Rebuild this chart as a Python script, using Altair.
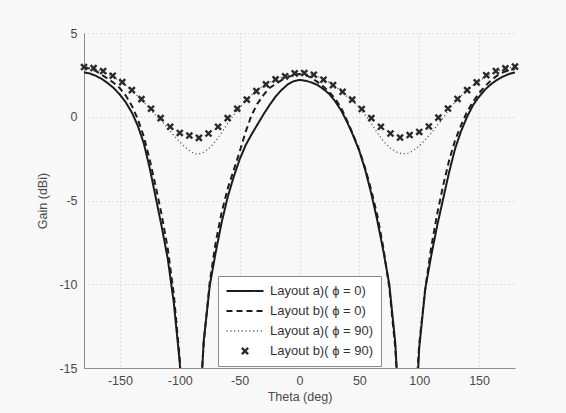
import altair as alt
import pandas as pd

# Elevation angle of the pattern cuts (deg)
theta_line = [
    -180, -175, -170, -165, -160, -155, -150, -145, -140, -135, -130, -125,
    -120, -115, -110, -105, -100, -95, -90, -85, -80, -75, -70, -65, -60,
    -55, -50, -45, -40, -35, -30, -25, -20, -15, -10, -5, 0, 5, 10, 15, 20,
    25, 30, 35, 40, 45, 50, 55, 60, 65, 70, 75, 80, 85, 90, 95, 100, 105,
    110, 115, 120, 125, 130, 135, 140, 145, 150, 155, 160, 165, 170, 175, 180,
]

# Layout a), phi = 0 cut (dBi)
gain_a_phi0 = [
    2.65, 2.58, 2.44, 2.25, 2.00, 1.70, 1.32, 0.85, 0.25, -0.55, -1.60, -3.10,
    -4.85, -6.60, -8.50, -11.10, -14.70, -21.0, -40.0, -20.0, -13.4, -10.1, -8.1, -6.3, -4.8,
    -3.6, -2.55, -1.70, -1.05, -0.45, 0.15, 0.70, 1.20, 1.60, 1.92, 2.12, 2.20, 2.15, 2.05, 1.90, 1.65,
    1.35, 0.90, 0.35, -0.35, -1.15, -2.05, -3.20, -4.60, -6.20, -8.00, -10.00, -13.50, -20.0, -40.0, -21.0, -13.8, -10.3,
    -8.3, -6.5, -4.9, -3.3, -1.9, -0.85, 0.0, 0.70, 1.20, 1.62, 1.95, 2.20, 2.40, 2.55, 2.65,
]

# Layout b), phi = 0 cut (dBi)
gain_b_phi0 = [
    2.95, 2.88, 2.72, 2.50, 2.27, 2.02, 1.70, 1.25, 0.65, -0.15, -1.20, -2.60,
    -4.20, -5.90, -7.90, -10.60, -14.50, -21.0, -40.0, -19.0, -13.5, -9.9, -7.5, -5.7, -4.3,
    -3.2, -2.1, -0.9, 0.10, 0.80, 1.30, 1.72, 1.95, 2.18, 2.35, 2.50, 2.55, 2.50, 2.32, 2.08, 1.80,
    1.47, 1.05, 0.50, -0.28, -1.10, -2.00, -3.10, -4.40, -5.90, -7.80, -10.20, -13.80, -20.0, -40.0, -19.0, -13.6, -10.3,
    -7.8, -5.8, -4.1, -2.6, -1.4, -0.5, 0.30, 0.90, 1.42, 1.82, 2.18, 2.45, 2.65, 2.78, 2.85,
]

# Layout a), phi = 90 cut (dBi)
gain_a_phi90 = [
    2.95, 2.92, 2.84, 2.71, 2.55, 2.36, 2.13, 1.86, 1.55, 1.22, 0.86, 0.48,
    0.08, -0.25, -0.68, -1.12, -1.50, -1.85, -2.12, -2.24, -2.12, -1.85, -1.45, -0.95, -0.40,
    0.10, 0.55, 0.95, 1.30, 1.60, 1.86, 2.06, 2.22, 2.35, 2.45, 2.52, 2.55, 2.55, 2.50, 2.40, 2.25,
    2.05, 1.80, 1.50, 1.20, 0.90, 0.55, 0.10, -0.40, -0.95, -1.45, -1.82, -2.08, -2.20, -2.20, -2.03, -1.74, -1.38,
    -0.98, -0.52, -0.08, 0.45, 0.88, 1.25, 1.57, 1.87, 2.13, 2.37, 2.56, 2.72, 2.84, 2.93, 2.97,
]

# Layout b), phi = 90 cut, sampled points
theta_marker = [
    -180, -172, -164, -156, -148, -140, -132, -124, -116, -108, -100, -92,
    -84, -76, -68, -60, -52, -44, -36, -28, -20, -12, -4, 4, 12, 20, 28, 36,
    44, 52, 60, 68, 76, 84, 92, 100, 108, 116, 124, 132, 140, 148, 156, 164,
    172, 180,
]
gain_b_phi90 = [
    2.97, 2.91, 2.73, 2.45, 2.07, 1.59, 1.05, 0.48, -0.08, -0.60, -0.97, -1.12,
    -1.26, -1.00, -0.60, -0.08, 0.48, 1.02, 1.53, 1.93, 2.23, 2.41, 2.59, 2.61, 2.51, 2.21, 1.89, 1.49,
    1.02, 0.46, -0.08, -0.60, -1.00, -1.24, -1.09, -0.91, -0.58, -0.05, 0.49, 1.06, 1.59, 2.05, 2.48, 2.73,
    2.89, 2.99,
]

series_names = [
    "Layout a)( \u03d5 = 0)",
    "Layout b)( \u03d5 = 0)",
    "Layout a)( \u03d5 = 90)",
    "Layout b)( \u03d5 = 90)",
]

lines = pd.concat(
    [
        pd.DataFrame({"theta": theta_line, "gain": g, "series": name})
        for g, name in zip([gain_a_phi0, gain_b_phi0, gain_a_phi90], series_names[:3])
    ],
    ignore_index=True,
)
markers = pd.DataFrame({"theta": theta_marker, "gain": gain_b_phi90, "series": series_names[3]})

# Bold "x" marker drawn as two crossing strokes
x_marker_path = "M-0.17,-0.17L0.17,0.17M0.17,-0.17L-0.17,0.17"

legend = alt.Legend(
    title=None,
    orient="none",
    legendX=134,
    legendY=243,
    fillColor="#ffffff",
    strokeColor="#8a8a8a",
    padding=7,
    symbolSize=1369,
    clipHeight=16,
    rowPadding=4,
    labelOffset=5,
    labelFont="Liberation Sans",
    labelFontSize=13,
    labelColor="#333333",
)

color = alt.Color(
    "series:N",
    scale=alt.Scale(domain=series_names, range=["#1c1c1c", "#1c1c1c", "#5a5a5a", "#2a2a2a"]),
    legend=legend,
)
dash = alt.StrokeDash(
    "series:N",
    scale=alt.Scale(domain=series_names, range=[[1, 0], [6, 4], [1.2, 2.6], [1, 0]]),
    legend=legend,
)
stroke_w = alt.StrokeWidth(
    "series:N",
    scale=alt.Scale(type="ordinal", domain=series_names, range=[2.0, 2.0, 1.3, 2.4]),
    legend=legend,
)
shape = alt.Shape(
    "series:N",
    scale=alt.Scale(domain=series_names, range=["stroke", "stroke", "stroke", x_marker_path]),
    legend=legend,
)

x_enc = alt.X(
    "theta:Q",
    scale=alt.Scale(domain=[-180, 180], nice=False, zero=False),
    axis=alt.Axis(
        title="Theta (deg)",
        values=[-150, -100, -50, 0, 50, 100, 150],
        labelExpr="toString(datum.value)",
        labelPadding=6,
        titlePadding=4,
    ),
)
y_enc = alt.Y(
    "gain:Q",
    scale=alt.Scale(domain=[-15, 5], nice=False, zero=False),
    axis=alt.Axis(
        title="Gain (dBi)",
        values=[-15, -10, -5, 0, 5],
        labelExpr="toString(datum.value)",
        labelPadding=7,
        titlePadding=9,
    ),
)

curve_layer = (
    alt.Chart(lines)
    .mark_line(clip=True, strokeCap="butt")
    .encode(
        x=x_enc,
        y=y_enc,
        color=color,
        strokeDash=dash,
        strokeWidth=stroke_w,
        detail="series:N",
        order="theta:Q",
    )
)

marker_layer = (
    alt.Chart(markers)
    .mark_point(filled=False, size=1225, opacity=1)
    .encode(x="theta:Q", y="gain:Q", color=color, shape=shape, strokeWidth=stroke_w)
)

chart = (
    alt.layer(curve_layer, marker_layer)
    .properties(
        width=431,
        height=335,
        autosize=alt.AutoSizeParams(type="none"),
        padding={"left": 84, "top": 33, "right": 51, "bottom": 45},
        background="#f8f8f8",
    )
    .configure_view(strokeWidth=0, fill="#f8f8f8")
    .configure_axis(
        domainColor="#8c8c8c",
        domainWidth=1,
        ticks=False,
        grid=True,
        gridColor="#c8c8c8",
        gridDash=[1, 3],
        gridWidth=1,
        labelFont="Liberation Sans",
        labelFontSize=12.5,
        labelColor="#4a4a4a",
        titleFont="Liberation Sans",
        titleFontSize=12.5,
        titleFontWeight="normal",
        titleColor="#4a4a4a",
    )
)

chart.save("out.html", embed_options={"renderer": "svg", "actions": False})
